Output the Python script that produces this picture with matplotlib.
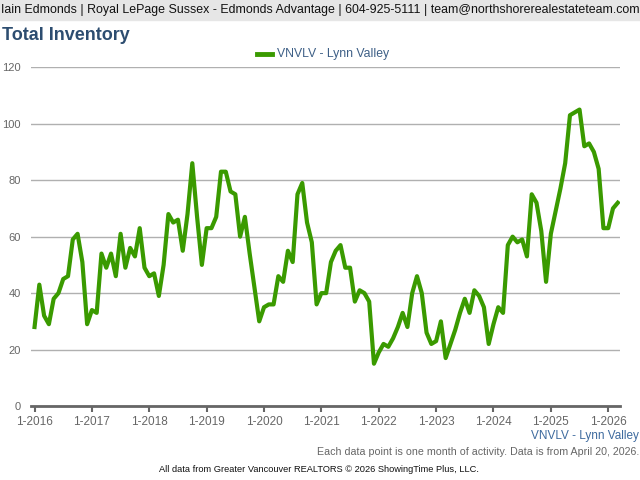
import matplotlib.pyplot as plt
import numpy as np

# monthly total inventory, Jan 2016 - Mar 2026
inventory = [28, 43, 32, 29, 38, 40, 45, 46, 59, 61, 51, 29,
             34, 33, 54, 49, 54, 46, 61, 49, 56, 53, 63, 49,
             46, 47, 39, 50, 68, 65, 66, 55, 68, 86, 67, 50,
             63, 63, 67, 83, 83, 76, 75, 60, 67, 54, 42, 30,
             35, 36, 36, 46, 44, 55, 51, 75, 79, 65, 58, 36,
             40, 40, 51, 55, 57, 49, 49, 37, 41, 40, 37, 15,
             19, 22, 21, 24, 28, 33, 28, 40, 46, 40, 26, 22,
             23, 30, 17, 22, 27, 33, 38, 33, 41, 39, 35, 22,
             29, 35, 33, 57, 60, 58, 59, 53, 75, 72, 62, 44,
             61, 69, 77, 86, 103, 104, 105, 92, 93, 90, 84, 63,
             63, 70, 72]
year_labels = ['1-2016', '1-2017', '1-2018', '1-2019', '1-2020', '1-2021',
               '1-2022', '1-2023', '1-2024', '1-2025', '1-2026']
y_ticks = [0, 20, 40, 60, 80, 100, 120]
series_name = 'VNVLV - Lynn Valley'

plt.rcParams['font.family'] = ['Liberation Sans', 'DejaVu Sans']

fig = plt.figure(figsize=(6.4, 4.8), dpi=100)
ax = fig.add_axes([0.048, 0.154, 0.921, 0.706])

months = np.arange(len(inventory))
ax.plot(months, inventory, color='#3a9a00', linewidth=3, solid_joinstyle='round')

ax.set_xlim(-0.8, 122.5)
ax.set_ylim(0, 120)
ax.set_yticks(y_ticks)
ax.set_yticklabels([str(v) for v in y_ticks], color='#666666', fontsize=8)
ax.set_xticks(np.arange(0, 121, 12))
ax.set_xticklabels(year_labels, color='#666666', fontsize=8.5)
ax.tick_params(axis='y', length=0, pad=7)
ax.tick_params(axis='x', length=4, width=1.5, color='#666666', pad=3)
ax.grid(axis='y', color='#b0b0b0', linewidth=1)
ax.set_axisbelow(True)
for s in ['top', 'right', 'left']:
    ax.spines[s].set_visible(False)
ax.spines['bottom'].set_color('#666666')
ax.spines['bottom'].set_linewidth(2)

# header bar
fig.patches.append(plt.Rectangle((0, 1 - 20 / 480), 1, 20 / 480, transform=fig.transFigure,
                                 color='#e6e6e6', zorder=0))
fig.text(0.5, 1 - 10 / 480, 'Iain Edmonds | Royal LePage Sussex - Edmonds Advantage | 604-925-5111 | team@northshorerealestateteam.com',
         ha='center', va='center', fontsize=8.9, color='#111111')
fig.text(0.003, 1 - 35 / 480, 'Total Inventory', ha='left', va='center',
         fontsize=13, fontweight='bold', color='#2d4d70')

# legend
fig.lines.append(plt.Line2D([257 / 640, 272 / 640], [1 - 54 / 480] * 2, transform=fig.transFigure,
                            color='#3a9a00', linewidth=3.5))
fig.text(277 / 640, 1 - 54 / 480, series_name, ha='left', va='center', fontsize=8.8, color='#3d5f86')

fig.text(639 / 640, 1 - 436 / 480, series_name, ha='right', va='center', fontsize=8.5, color='#3d6a9e')
fig.text(639 / 640, 1 - 452 / 480, 'Each data point is one month of activity. Data is from April 20, 2026.',
         ha='right', va='center', fontsize=7.7, color='#666666')
fig.text(319 / 640, 1 - 470 / 480, 'All data from Greater Vancouver REALTORS \u00a9 2026 ShowingTime Plus, LLC.',
         ha='center', va='center', fontsize=6.7, color='#111111')

fig.savefig('out.png', dpi=100)
